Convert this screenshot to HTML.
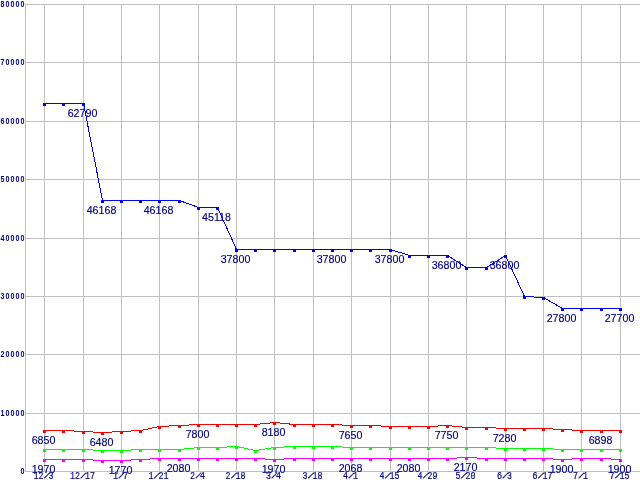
<!DOCTYPE html>
<html><head><meta charset="utf-8"><title>chart</title>
<style>
html,body{margin:0;padding:0;background:#fff;overflow:hidden}
svg{display:block}
.g{fill:#c0c0c0;shape-rendering:crispEdges}
.l{fill:none;stroke-width:1;shape-rendering:crispEdges}
.m{shape-rendering:crispEdges}
.d{font-family:"Liberation Sans",sans-serif;font-size:10.67px;fill:#000080;text-anchor:middle;stroke:#000080;stroke-width:0.15px}
.y{font-family:"Liberation Sans",sans-serif;font-weight:bold;font-size:9.8px;fill:#000080;text-anchor:middle}
.x{font-family:"Liberation Mono","Liberation Sans",monospace;font-weight:normal;stroke:#000080;stroke-width:0.2px;font-size:10.2px;fill:#000080;text-anchor:middle}
</style></head><body>
<svg width="640" height="480" viewBox="0 0 640 480">
<rect width="640" height="480" fill="#fff"/>

<rect class="g" x="25" y="4" width="615" height="1"/>
<rect class="g" x="25" y="62" width="615" height="1"/>
<rect class="g" x="25" y="121" width="615" height="1"/>
<rect class="g" x="25" y="179" width="615" height="1"/>
<rect class="g" x="25" y="238" width="615" height="1"/>
<rect class="g" x="25" y="296" width="615" height="1"/>
<rect class="g" x="25" y="354" width="615" height="1"/>
<rect class="g" x="25" y="413" width="615" height="1"/>
<rect class="g" x="25" y="471" width="615" height="1"/>
<rect class="g" x="25" y="4" width="1" height="468"/>
<rect class="g" x="44" y="4" width="1" height="468"/>
<rect class="g" x="83" y="4" width="1" height="468"/>
<rect class="g" x="121" y="4" width="1" height="468"/>
<rect class="g" x="159" y="4" width="1" height="468"/>
<rect class="g" x="198" y="4" width="1" height="468"/>
<rect class="g" x="236" y="4" width="1" height="468"/>
<rect class="g" x="274" y="4" width="1" height="468"/>
<rect class="g" x="313" y="4" width="1" height="468"/>
<rect class="g" x="351" y="4" width="1" height="468"/>
<rect class="g" x="390" y="4" width="1" height="468"/>
<rect class="g" x="428" y="4" width="1" height="468"/>
<rect class="g" x="466" y="4" width="1" height="468"/>
<rect class="g" x="505" y="4" width="1" height="468"/>
<rect class="g" x="543" y="4" width="1" height="468"/>
<rect class="g" x="581" y="4" width="1" height="468"/>
<rect class="g" x="620" y="4" width="1" height="468"/>


<text class="d" x="82.5" y="117">62790</text>
<text class="d" x="101.5" y="214">46168</text>
<text class="d" x="158.5" y="214">46168</text>
<text class="d" x="216.5" y="221">45118</text>
<text class="d" x="235.5" y="263">37800</text>
<text class="d" x="331.5" y="263">37800</text>
<text class="d" x="389.5" y="263">37800</text>
<text class="d" x="446.5" y="269">36800</text>
<text class="d" x="504.5" y="269">36800</text>
<text class="d" x="561.5" y="322">27800</text>
<text class="d" x="619.5" y="322">27700</text>


<text class="d" x="43.5" y="444">6850</text>
<text class="d" x="101.5" y="446">6480</text>
<text class="d" x="197.5" y="438">7800</text>
<text class="d" x="273.5" y="436">8180</text>
<text class="d" x="350.5" y="439">7650</text>
<text class="d" x="446.5" y="439">7750</text>
<text class="d" x="504.5" y="442">7280</text>
<text class="d" x="600.5" y="444">6898</text>


<text class="d" x="43.5" y="473">1970</text>
<text class="d" x="120.5" y="474">1770</text>
<text class="d" x="178.5" y="472">2080</text>
<text class="d" x="273.5" y="473">1970</text>
<text class="d" x="350.5" y="472">2068</text>
<text class="d" x="408.5" y="472">2080</text>
<text class="d" x="465.5" y="471">2170</text>
<text class="d" x="561.5" y="473">1900</text>
<text class="d" x="619.5" y="473">1900</text>


<polyline class="l" stroke="#0000ff" points="44.5,103.5 63.5,103.5 83.5,103.5 102.5,200.5 121.5,200.5 140.5,200.5 159.5,200.5 179.5,200.5 198.5,207.5 217.5,207.5 236.5,249.5 255.5,249.5 274.5,249.5 294.5,249.5 313.5,249.5 332.5,249.5 351.5,249.5 370.5,249.5 390.5,249.5 409.5,255.5 428.5,255.5 447.5,255.5 466.5,267.5 486.5,267.5 505.5,255.5 524.5,296.5 543.5,297.5 562.5,308.5 581.5,308.5 601.5,308.5 620.5,308.5"/>
<rect class="m" fill="#0000ff" x="43" y="103" width="3" height="3"/>
<rect class="m" fill="#0000ff" x="62" y="103" width="3" height="3"/>
<rect class="m" fill="#0000ff" x="82" y="103" width="3" height="3"/>
<rect class="m" fill="#0000ff" x="101" y="200" width="3" height="3"/>
<rect class="m" fill="#0000ff" x="120" y="200" width="3" height="3"/>
<rect class="m" fill="#0000ff" x="139" y="200" width="3" height="3"/>
<rect class="m" fill="#0000ff" x="158" y="200" width="3" height="3"/>
<rect class="m" fill="#0000ff" x="178" y="200" width="3" height="3"/>
<rect class="m" fill="#0000ff" x="197" y="207" width="3" height="3"/>
<rect class="m" fill="#0000ff" x="216" y="207" width="3" height="3"/>
<rect class="m" fill="#0000ff" x="235" y="249" width="3" height="3"/>
<rect class="m" fill="#0000ff" x="254" y="249" width="3" height="3"/>
<rect class="m" fill="#0000ff" x="273" y="249" width="3" height="3"/>
<rect class="m" fill="#0000ff" x="293" y="249" width="3" height="3"/>
<rect class="m" fill="#0000ff" x="312" y="249" width="3" height="3"/>
<rect class="m" fill="#0000ff" x="331" y="249" width="3" height="3"/>
<rect class="m" fill="#0000ff" x="350" y="249" width="3" height="3"/>
<rect class="m" fill="#0000ff" x="369" y="249" width="3" height="3"/>
<rect class="m" fill="#0000ff" x="389" y="249" width="3" height="3"/>
<rect class="m" fill="#0000ff" x="408" y="255" width="3" height="3"/>
<rect class="m" fill="#0000ff" x="427" y="255" width="3" height="3"/>
<rect class="m" fill="#0000ff" x="446" y="255" width="3" height="3"/>
<rect class="m" fill="#0000ff" x="465" y="267" width="3" height="3"/>
<rect class="m" fill="#0000ff" x="485" y="267" width="3" height="3"/>
<rect class="m" fill="#0000ff" x="504" y="255" width="3" height="3"/>
<rect class="m" fill="#0000ff" x="523" y="296" width="3" height="3"/>
<rect class="m" fill="#0000ff" x="542" y="297" width="3" height="3"/>
<rect class="m" fill="#0000ff" x="561" y="308" width="3" height="3"/>
<rect class="m" fill="#0000ff" x="580" y="308" width="3" height="3"/>
<rect class="m" fill="#0000ff" x="600" y="308" width="3" height="3"/>
<rect class="m" fill="#0000ff" x="619" y="308" width="3" height="3"/>


<polyline class="l" stroke="#ff0000" points="44.5,430.5 63.5,430.5 83.5,431.5 102.5,432.5 121.5,431.5 140.5,430.5 159.5,426.5 179.5,425.5 198.5,424.5 217.5,424.5 236.5,424.5 255.5,424.5 274.5,422.5 294.5,424.5 313.5,424.5 332.5,424.5 351.5,425.5 370.5,425.5 390.5,426.5 409.5,426.5 428.5,426.5 447.5,425.5 466.5,427.5 486.5,427.5 505.5,428.5 524.5,428.5 543.5,428.5 562.5,429.5 581.5,430.5 601.5,430.5 620.5,430.5"/>
<rect class="m" fill="#ff0000" x="43" y="430" width="3" height="3"/>
<rect class="m" fill="#ff0000" x="62" y="430" width="3" height="3"/>
<rect class="m" fill="#ff0000" x="82" y="431" width="3" height="3"/>
<rect class="m" fill="#ff0000" x="101" y="432" width="3" height="3"/>
<rect class="m" fill="#ff0000" x="120" y="431" width="3" height="3"/>
<rect class="m" fill="#ff0000" x="139" y="430" width="3" height="3"/>
<rect class="m" fill="#ff0000" x="158" y="426" width="3" height="3"/>
<rect class="m" fill="#ff0000" x="178" y="425" width="3" height="3"/>
<rect class="m" fill="#ff0000" x="197" y="424" width="3" height="3"/>
<rect class="m" fill="#ff0000" x="216" y="424" width="3" height="3"/>
<rect class="m" fill="#ff0000" x="235" y="424" width="3" height="3"/>
<rect class="m" fill="#ff0000" x="254" y="424" width="3" height="3"/>
<rect class="m" fill="#ff0000" x="273" y="422" width="3" height="3"/>
<rect class="m" fill="#ff0000" x="293" y="424" width="3" height="3"/>
<rect class="m" fill="#ff0000" x="312" y="424" width="3" height="3"/>
<rect class="m" fill="#ff0000" x="331" y="424" width="3" height="3"/>
<rect class="m" fill="#ff0000" x="350" y="425" width="3" height="3"/>
<rect class="m" fill="#ff0000" x="369" y="425" width="3" height="3"/>
<rect class="m" fill="#ff0000" x="389" y="426" width="3" height="3"/>
<rect class="m" fill="#ff0000" x="408" y="426" width="3" height="3"/>
<rect class="m" fill="#ff0000" x="427" y="426" width="3" height="3"/>
<rect class="m" fill="#ff0000" x="446" y="425" width="3" height="3"/>
<rect class="m" fill="#ff0000" x="465" y="427" width="3" height="3"/>
<rect class="m" fill="#ff0000" x="485" y="427" width="3" height="3"/>
<rect class="m" fill="#ff0000" x="504" y="428" width="3" height="3"/>
<rect class="m" fill="#ff0000" x="523" y="428" width="3" height="3"/>
<rect class="m" fill="#ff0000" x="542" y="428" width="3" height="3"/>
<rect class="m" fill="#ff0000" x="561" y="429" width="3" height="3"/>
<rect class="m" fill="#ff0000" x="580" y="430" width="3" height="3"/>
<rect class="m" fill="#ff0000" x="600" y="430" width="3" height="3"/>
<rect class="m" fill="#ff0000" x="619" y="430" width="3" height="3"/>


<polyline class="l" stroke="#00ff00" points="44.5,449.5 63.5,449.5 83.5,449.5 102.5,450.5 121.5,450.5 140.5,449.5 159.5,449.5 179.5,449.5 198.5,447.5 217.5,447.5 236.5,446.5 255.5,450.5 274.5,447.5 294.5,446.5 313.5,446.5 332.5,446.5 351.5,447.5 370.5,447.5 390.5,447.5 409.5,447.5 428.5,447.5 447.5,447.5 466.5,447.5 486.5,447.5 505.5,448.5 524.5,448.5 543.5,448.5 562.5,449.5 581.5,449.5 601.5,449.5 620.5,449.5"/>
<rect class="m" fill="#00ff00" x="43" y="449" width="3" height="3"/>
<rect class="m" fill="#00ff00" x="62" y="449" width="3" height="3"/>
<rect class="m" fill="#00ff00" x="82" y="449" width="3" height="3"/>
<rect class="m" fill="#00ff00" x="101" y="450" width="3" height="3"/>
<rect class="m" fill="#00ff00" x="120" y="450" width="3" height="3"/>
<rect class="m" fill="#00ff00" x="139" y="449" width="3" height="3"/>
<rect class="m" fill="#00ff00" x="158" y="449" width="3" height="3"/>
<rect class="m" fill="#00ff00" x="178" y="449" width="3" height="3"/>
<rect class="m" fill="#00ff00" x="197" y="447" width="3" height="3"/>
<rect class="m" fill="#00ff00" x="216" y="447" width="3" height="3"/>
<rect class="m" fill="#00ff00" x="235" y="446" width="3" height="3"/>
<rect class="m" fill="#00ff00" x="254" y="450" width="3" height="3"/>
<rect class="m" fill="#00ff00" x="273" y="447" width="3" height="3"/>
<rect class="m" fill="#00ff00" x="293" y="446" width="3" height="3"/>
<rect class="m" fill="#00ff00" x="312" y="446" width="3" height="3"/>
<rect class="m" fill="#00ff00" x="331" y="446" width="3" height="3"/>
<rect class="m" fill="#00ff00" x="350" y="447" width="3" height="3"/>
<rect class="m" fill="#00ff00" x="369" y="447" width="3" height="3"/>
<rect class="m" fill="#00ff00" x="389" y="447" width="3" height="3"/>
<rect class="m" fill="#00ff00" x="408" y="447" width="3" height="3"/>
<rect class="m" fill="#00ff00" x="427" y="447" width="3" height="3"/>
<rect class="m" fill="#00ff00" x="446" y="447" width="3" height="3"/>
<rect class="m" fill="#00ff00" x="465" y="447" width="3" height="3"/>
<rect class="m" fill="#00ff00" x="485" y="447" width="3" height="3"/>
<rect class="m" fill="#00ff00" x="504" y="448" width="3" height="3"/>
<rect class="m" fill="#00ff00" x="523" y="448" width="3" height="3"/>
<rect class="m" fill="#00ff00" x="542" y="448" width="3" height="3"/>
<rect class="m" fill="#00ff00" x="561" y="449" width="3" height="3"/>
<rect class="m" fill="#00ff00" x="580" y="449" width="3" height="3"/>
<rect class="m" fill="#00ff00" x="600" y="449" width="3" height="3"/>
<rect class="m" fill="#00ff00" x="619" y="449" width="3" height="3"/>


<polyline class="l" stroke="#ff00ff" points="44.5,459.5 63.5,459.5 83.5,459.5 102.5,460.5 121.5,460.5 140.5,459.5 159.5,458.5 179.5,458.5 198.5,458.5 217.5,458.5 236.5,458.5 255.5,458.5 274.5,459.5 294.5,458.5 313.5,458.5 332.5,458.5 351.5,458.5 370.5,458.5 390.5,458.5 409.5,458.5 428.5,458.5 447.5,458.5 466.5,457.5 486.5,458.5 505.5,458.5 524.5,458.5 543.5,458.5 562.5,459.5 581.5,458.5 601.5,458.5 620.5,459.5"/>
<rect class="m" fill="#ff00ff" x="43" y="459" width="3" height="3"/>
<rect class="m" fill="#ff00ff" x="62" y="459" width="3" height="3"/>
<rect class="m" fill="#ff00ff" x="82" y="459" width="3" height="3"/>
<rect class="m" fill="#ff00ff" x="101" y="460" width="3" height="3"/>
<rect class="m" fill="#ff00ff" x="120" y="460" width="3" height="3"/>
<rect class="m" fill="#ff00ff" x="139" y="459" width="3" height="3"/>
<rect class="m" fill="#ff00ff" x="158" y="458" width="3" height="3"/>
<rect class="m" fill="#ff00ff" x="178" y="458" width="3" height="3"/>
<rect class="m" fill="#ff00ff" x="197" y="458" width="3" height="3"/>
<rect class="m" fill="#ff00ff" x="216" y="458" width="3" height="3"/>
<rect class="m" fill="#ff00ff" x="235" y="458" width="3" height="3"/>
<rect class="m" fill="#ff00ff" x="254" y="458" width="3" height="3"/>
<rect class="m" fill="#ff00ff" x="273" y="459" width="3" height="3"/>
<rect class="m" fill="#ff00ff" x="293" y="458" width="3" height="3"/>
<rect class="m" fill="#ff00ff" x="312" y="458" width="3" height="3"/>
<rect class="m" fill="#ff00ff" x="331" y="458" width="3" height="3"/>
<rect class="m" fill="#ff00ff" x="350" y="458" width="3" height="3"/>
<rect class="m" fill="#ff00ff" x="369" y="458" width="3" height="3"/>
<rect class="m" fill="#ff00ff" x="389" y="458" width="3" height="3"/>
<rect class="m" fill="#ff00ff" x="408" y="458" width="3" height="3"/>
<rect class="m" fill="#ff00ff" x="427" y="458" width="3" height="3"/>
<rect class="m" fill="#ff00ff" x="446" y="458" width="3" height="3"/>
<rect class="m" fill="#ff00ff" x="465" y="457" width="3" height="3"/>
<rect class="m" fill="#ff00ff" x="485" y="458" width="3" height="3"/>
<rect class="m" fill="#ff00ff" x="504" y="458" width="3" height="3"/>
<rect class="m" fill="#ff00ff" x="523" y="458" width="3" height="3"/>
<rect class="m" fill="#ff00ff" x="542" y="458" width="3" height="3"/>
<rect class="m" fill="#ff00ff" x="561" y="459" width="3" height="3"/>
<rect class="m" fill="#ff00ff" x="580" y="458" width="3" height="3"/>
<rect class="m" fill="#ff00ff" x="600" y="458" width="3" height="3"/>
<rect class="m" fill="#ff00ff" x="619" y="459" width="3" height="3"/>


<text class="y" transform="translate(0,7) scale(0.73,1)" x="3.42 10.27 17.12 23.97 30.82" y="0">80000</text>
<text class="y" transform="translate(0,65) scale(0.73,1)" x="3.42 10.27 17.12 23.97 30.82" y="0">70000</text>
<text class="y" transform="translate(0,124) scale(0.73,1)" x="3.42 10.27 17.12 23.97 30.82" y="0">60000</text>
<text class="y" transform="translate(0,182) scale(0.73,1)" x="3.42 10.27 17.12 23.97 30.82" y="0">50000</text>
<text class="y" transform="translate(0,241) scale(0.73,1)" x="3.42 10.27 17.12 23.97 30.82" y="0">40000</text>
<text class="y" transform="translate(0,299) scale(0.73,1)" x="3.42 10.27 17.12 23.97 30.82" y="0">30000</text>
<text class="y" transform="translate(0,357) scale(0.73,1)" x="3.42 10.27 17.12 23.97 30.82" y="0">20000</text>
<text class="y" transform="translate(0,416) scale(0.73,1)" x="3.42 10.27 17.12 23.97 30.82" y="0">10000</text>
<text class="y" transform="translate(0,474) scale(0.73,1)" x="30.82" y="0">0</text>


<text class="x" transform="translate(0,479) scale(0.817,1)" x="44.06 50.18 56.30 62.42" y="0" dy="0 0 -1.2 1.2" rotate="0 0 22 0">12/3</text>
<text class="x" transform="translate(0,479) scale(0.817,1)" x="88.74 94.86 100.98 107.10 113.22" y="0" dy="0 0 -1.2 1.2 0" rotate="0 0 22 0 0">12/17</text>
<text class="x" transform="translate(0,479) scale(0.817,1)" x="141.37 147.49 153.61" y="0" dy="0 -1.2 1.2" rotate="0 22 0">1/7</text>
<text class="x" transform="translate(0,479) scale(0.817,1)" x="184.82 190.94 197.06 203.18" y="0" dy="0 -1.2 1.2 0" rotate="0 22 0 0">1/21</text>
<text class="x" transform="translate(0,479) scale(0.817,1)" x="235.62 241.74 247.86" y="0" dy="0 -1.2 1.2" rotate="0 22 0">2/4</text>
<text class="x" transform="translate(0,479) scale(0.817,1)" x="279.07 285.19 291.31 297.43" y="0" dy="0 -1.2 1.2 0" rotate="0 22 0 0">2/18</text>
<text class="x" transform="translate(0,479) scale(0.817,1)" x="328.64 334.76 340.88" y="0" dy="0 -1.2 1.2" rotate="0 22 0">3/4</text>
<text class="x" transform="translate(0,479) scale(0.817,1)" x="373.32 379.44 385.56 391.68" y="0" dy="0 -1.2 1.2 0" rotate="0 22 0 0">3/18</text>
<text class="x" transform="translate(0,479) scale(0.817,1)" x="422.89 429.01 435.13" y="0" dy="0 -1.2 1.2" rotate="0 22 0">4/1</text>
<text class="x" transform="translate(0,479) scale(0.817,1)" x="467.56 473.68 479.80 485.92" y="0" dy="0 -1.2 1.2 0" rotate="0 22 0 0">4/15</text>
<text class="x" transform="translate(0,479) scale(0.817,1)" x="514.08 520.20 526.32 532.44" y="0" dy="0 -1.2 1.2 0" rotate="0 22 0 0">4/29</text>
<text class="x" transform="translate(0,479) scale(0.817,1)" x="560.59 566.71 572.83 578.95" y="0" dy="0 -1.2 1.2 0" rotate="0 22 0 0">5/20</text>
<text class="x" transform="translate(0,479) scale(0.817,1)" x="611.38 617.50 623.62" y="0" dy="0 -1.2 1.2" rotate="0 22 0">6/3</text>
<text class="x" transform="translate(0,479) scale(0.817,1)" x="654.83 660.95 667.07 673.19" y="0" dy="0 -1.2 1.2 0" rotate="0 22 0 0">6/17</text>
<text class="x" transform="translate(0,479) scale(0.817,1)" x="704.41 710.53 716.65" y="0" dy="0 -1.2 1.2" rotate="0 22 0">7/1</text>
<text class="x" transform="translate(0,479) scale(0.817,1)" x="749.08 755.20 761.32 767.44" y="0" dy="0 -1.2 1.2 0" rotate="0 22 0 0">7/15</text>

</svg></body></html>
